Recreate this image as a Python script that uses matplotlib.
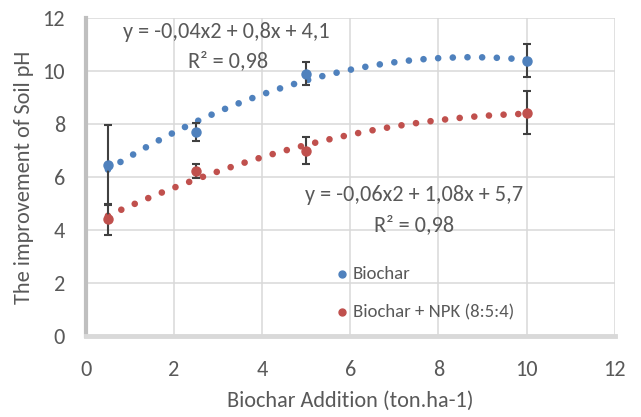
import numpy as np
import matplotlib
matplotlib.use("Agg")
import matplotlib.pyplot as plt

plt.rcParams['font.family'] = ['Carlito', 'DejaVu Sans']

# data
doses = [0.5, 2.5, 5, 10]
biochar = [6.45, 7.7, 9.9, 10.38]
biochar_err = [1.5, 0.35, 0.42, 0.62]
npk = [4.4, 6.23, 7.0, 8.42]
npk_err = [0.57, 0.27, 0.5, 0.81]

x_ticks = [0, 2, 4, 6, 8, 10, 12]
y_ticks = [0, 2, 4, 6, 8, 10, 12]

blue = '#4F81BD'
red = '#C0504D'
txt = '#595959'
grid = '#d9d9d9'

fig = plt.figure(figsize=(6.41, 4.17), dpi=100)
ax = fig.add_axes([0.134, 0.194, 0.825, 0.763])

ax.set_xlim(0, 12)
ax.set_ylim(0, 12)
ax.set_xticks(x_ticks)
ax.set_yticks(y_ticks)
ax.grid(True, color=grid, lw=1.1)
ax.set_axisbelow(True)
for s in ['top', 'right']:
    ax.spines[s].set_visible(False)
ax.spines['left'].set_color('#bfbfbf')
ax.spines['left'].set_linewidth(3)
ax.spines['bottom'].set_color(grid)
ax.spines['bottom'].set_linewidth(3.5)
ax.tick_params(length=0, labelsize=16, labelcolor=txt)
ax.tick_params(axis='x', pad=17)
ax.tick_params(axis='y', pad=15)

# polynomial trendlines (order 2), like excel
xs = np.linspace(min(doses), max(doses), 200)
for y, c in [(biochar, blue), (npk, red)]:
    p = np.polyfit(doses, y, 2)
    ax.plot(xs, np.polyval(p, xs), color=c, lw=4.8, ls=(0, (0.001, 2.2)),
            dash_capstyle='round', zorder=2)

ax.errorbar(doses, biochar, yerr=biochar_err, fmt='o', color=blue, ms=6.5,
            ecolor='#404040', elinewidth=1.5, capsize=2.7, capthick=1.5, zorder=3)
ax.errorbar(doses, npk, yerr=npk_err, fmt='o', color=red, ms=6.5,
            ecolor='#404040', elinewidth=1.5, capsize=2.7, capthick=1.5, zorder=3)

# equations
eq = dict(ha='center', va='center', fontsize=16, color=txt)
ax.text(3.18, 11.47, 'y = -0,04x2 + 0,8x + 4,1', **eq)
ax.text(3.22, 10.38, 'R² = 0,98', **eq)
ax.text(7.44, 5.32, 'y = -0,06x2 + 1,08x + 5,7', **eq)
ax.text(7.44, 4.19, 'R² = 0,98', **eq)

# legend drawn inside plot
ax.plot([5.82], [2.34], 'o', color=blue, ms=5)
ax.text(6.05, 2.34, 'Biochar', va='center', fontsize=13.5, color=txt)
ax.plot([5.82], [0.9], 'o', color=red, ms=5)
ax.text(6.05, 0.9, 'Biochar + NPK (8:5:4)', va='center', fontsize=13.5, color=txt)

ax.set_xlabel('Biochar Addition (ton.ha-1)', fontsize=16, color=txt, labelpad=8)
ax.set_ylabel('The improvement of Soil pH', fontsize=16, color=txt, labelpad=6)

fig.savefig('out.png', dpi=100)
